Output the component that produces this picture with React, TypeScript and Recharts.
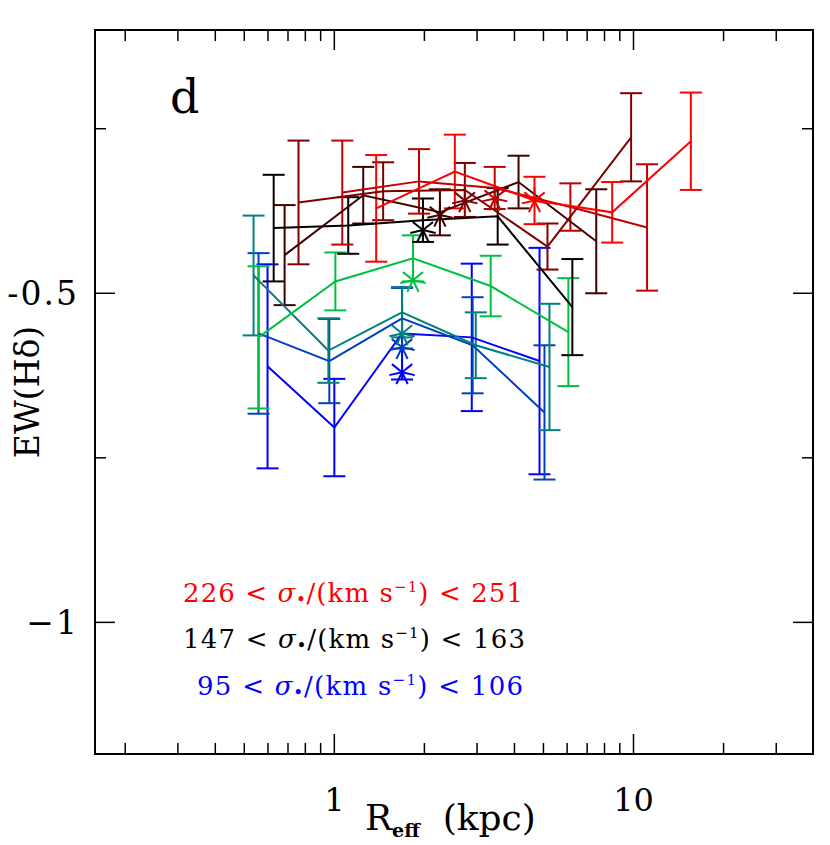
import React from 'react';
import { ComposedChart, XAxis, YAxis, Scatter, ErrorBar, ReferenceArea } from 'recharts';

// log10 Reff runs from -0.8 to 1.6
const X_MIN = Math.pow(10, -0.8);
const X_MAX = Math.pow(10, 1.6);
const Y_MIN = -1.2;
const Y_MAX = -0.1;

const xTicks = [0.2, 0.3, 0.4, 0.5, 0.6, 0.7, 0.8, 0.9, 1, 2, 3, 4, 5, 6, 7, 8, 9, 10, 20, 30];
const yTicks = [-1, -0.75, -0.5, -0.25];

// sigma bins, low to high
const blueR = [0.598, 1.0, 1.684, 2.88, 4.851];
const blueEW = [-0.611, -0.704, -0.561, -0.567, -0.603];
const blueErr = [0.155, 0.074, 0.07, 0.112, 0.172];

const mblueR = [0.558, 0.962, 1.684, 2.9, 5.04];
const mblueEW = [-0.561, -0.603, -0.538, -0.579, -0.681];
const mblueErr = [0.122, 0.064, 0.046, 0.073, 0.102];

const tealR = [0.537, 0.955, 1.684, 2.97, 5.238];
const tealEW = [-0.473, -0.587, -0.529, -0.579, -0.612];
const tealErr = [0.091, 0.049, 0.038, 0.05, 0.096];

const greenR = [0.558, 1.008, 1.832, 3.331, 6.058];
const greenEW = [-0.567, -0.482, -0.447, -0.489, -0.559];
const greenErr = [0.108, 0.044, 0.035, 0.046, 0.082];

const blackR = [0.627, 1.113, 1.978, 3.516, 6.247];
const blackEW = [-0.401, -0.397, -0.389, -0.383, -0.521];
const blackErr = [0.081, 0.043, 0.033, 0.043, 0.073];

const brownR = [0.682, 1.249, 2.254, 4.128, 7.508];
const brownEW = [-0.442, -0.351, -0.377, -0.331, -0.421];
const brownErr = [0.076, 0.043, 0.035, 0.04, 0.079];

const dredR = [0.759, 1.456, 2.73, 5.158, 9.818];
const dredEW = [-0.362, -0.345, -0.343, -0.429, -0.263];
const dredErr = [0.094, 0.044, 0.041, 0.035, 0.067];

const mredR = [1.063, 1.919, 3.436, 6.152, 11.1];
const mredEW = [-0.347, -0.33, -0.34, -0.369, -0.4];
const mredErr = [0.079, 0.049, 0.032, 0.036, 0.096];

const redR = [1.38, 2.528, 4.667, 8.488, 15.55];
const redEW = [-0.371, -0.315, -0.359, -0.377, -0.269];
const redErr = [0.081, 0.056, 0.036, 0.046, 0.074];

// median of each sigma bin (asterisks)
const starR = [1.684, 1.684, 1.684, 1.832, 1.978, 2.254, 2.73, 3.436, 4.667];
const starEW = [-0.62, -0.582, -0.561, -0.48, -0.404, -0.381, -0.359, -0.356, -0.359];

const colors = ['#0000ff', '#0040c0', '#008080', '#00c040', '#000000', '#400000', '#800000', '#c00000', '#ff0000'];

const seriesR = [blueR, mblueR, tealR, greenR, blackR, brownR, dredR, mredR, redR];
const seriesEW = [blueEW, mblueEW, tealEW, greenEW, blackEW, brownEW, dredEW, mredEW, redEW];
const seriesErr = [blueErr, mblueErr, tealErr, greenErr, blackErr, brownErr, dredErr, mredErr, redErr];

const W = 814;
const H = 830;
const PLOT_L = 87;
const PLOT_R = 805;
const PLOT_T = 22;
const PLOT_B = 746;
const FONT = '"DejaVu Serif", serif';

const XTick = (props: any) => {
  const { x, payload } = props;
  const v = payload.value;
  const major = v === 1 || v === 10;
  const len = major ? 20 : 11;
  return (
    <g>
      <line x1={x} y1={PLOT_B} x2={x} y2={PLOT_B - len} stroke="#000" strokeWidth={1.5} />
      <line x1={x} y1={PLOT_T} x2={x} y2={PLOT_T + len} stroke="#000" strokeWidth={1.5} />
      {major && (
        <text x={x} y={PLOT_B + 57} textAnchor="middle" fontSize={32} fontFamily={FONT} fill="#000">
          {v}
        </text>
      )}
    </g>
  );
};

const YTick = (props: any) => {
  const { y, payload } = props;
  const v = payload.value;
  const major = v === -0.5 || v === -1;
  const len = major ? 20 : 11;
  return (
    <g>
      <line x1={PLOT_L} y1={y} x2={PLOT_L + len} y2={y} stroke="#000" strokeWidth={1.5} />
      <line x1={PLOT_R} y1={y} x2={PLOT_R - len} y2={y} stroke="#000" strokeWidth={1.5} />
      {major && (
        <text x={PLOT_L - 16} y={y + 12} textAnchor="end" fontSize={33} fontFamily={FONT} fill="#000" letterSpacing={2}>
          {v === -1 ? '\u22121' : '-0.5'}
        </text>
      )}
    </g>
  );
};

const noDot = () => <g />;

const Asterisk = (props: any) => {
  const { cx, cy, fill } = props;
  const r = 13;
  const arms = [];
  for (let i = 0; i < 7; i++) {
    const a = -Math.PI / 2 + (i * 2 * Math.PI) / 7;
    arms.push(
      <line key={i} x1={cx} y1={cy} x2={cx + r * Math.cos(a)} y2={cy + r * Math.sin(a)} stroke={fill} strokeWidth={2} />
    );
  }
  return <g>{arms}</g>;
};

const Legend = ({ x, y, len, color, lo, hi }: any) => (
  <text x={x} y={y} fontSize={26} fontFamily={FONT} fill={color} textLength={len} lengthAdjust="spacing">
    {lo} &lt; <tspan fontStyle="italic">σ</tspan>
    <tspan fontSize={14} fontWeight="bold" dy={2}>•</tspan>
    <tspan dy={-2}>/(km s</tspan>
    <tspan fontSize={15} dy={-10}>−1</tspan>
    <tspan dy={10}>) &lt; {hi}</tspan>
  </text>
);

export default function App() {
  return (
    <div style={{ position: 'relative', width: W, height: H, fontFamily: FONT }}>
      <ComposedChart width={W} height={H} margin={{ top: PLOT_T, right: W - PLOT_R, bottom: 0, left: 0 }}>
        <XAxis
          type="number"
          dataKey="x"
          scale="log"
          domain={[X_MIN, X_MAX]}
          allowDataOverflow
          ticks={xTicks}
          interval={0}
          tick={<XTick />}
          tickLine={false}
          axisLine={false}
          tickSize={0}
          height={H - PLOT_B}
        />
        <YAxis
          type="number"
          dataKey="y"
          domain={[Y_MIN, Y_MAX]}
          allowDataOverflow
          ticks={yTicks}
          interval={0}
          tick={<YTick />}
          tickLine={false}
          axisLine={false}
          tickSize={0}
          width={PLOT_L}
        />
        <ReferenceArea x1={X_MIN} x2={X_MAX} y1={Y_MIN} y2={Y_MAX} fill="none" stroke="#000" strokeWidth={2} ifOverflow="visible" />
        {colors.map((c, i) => {
          const pts = seriesR[i].map((r, j) => ({ x: r, y: seriesEW[i][j], err: seriesErr[i][j] }));
          return (
            <Scatter
              key={`s${i}`}
              data={pts}
              line={{ stroke: c, strokeWidth: 2 }}
              lineJointType="linear"
              shape={noDot}
              isAnimationActive={false}
            >
              <ErrorBar dataKey="err" direction="y" width={11} stroke={c} strokeWidth={2} isAnimationActive={false} />
            </Scatter>
          );
        })}
        {colors.map((c, i) => (
          <Scatter
            key={`m${i}`}
            data={[{ x: starR[i], y: starEW[i] }]}
            fill={c}
            shape={<Asterisk />}
            isAnimationActive={false}
          />
        ))}
      </ComposedChart>
      <svg width={W} height={H + 7} style={{ position: 'absolute', left: 0, top: 0, pointerEvents: 'none', overflow: 'visible' }}>
        <text x={162} y={105} fontSize={46} fontFamily={FONT} fill="#000">d</text>
        <Legend x={175} y={594} len={340} color="#ff0000" lo="226" hi="251" />
        <Legend x={175} y={640} len={342} color="#000000" lo="147" hi="163" />
        <Legend x={189} y={687} len={326} color="#0000ff" lo="95" hi="106" />
        <text x={357} y={822} fontSize={36} fontFamily={FONT} fill="#000">
          R<tspan fontSize={19} fontWeight="bold" dy={7}>eff</tspan>
          <tspan dy={-7}>{'\u00a0\u00a0(kpc)'}</tspan>
        </text>
        <text transform="translate(31,384) rotate(-90)" textAnchor="middle" fontSize={33} fontFamily={FONT} fill="#000">
          EW(Hδ)
        </text>
      </svg>
    </div>
  );
}
